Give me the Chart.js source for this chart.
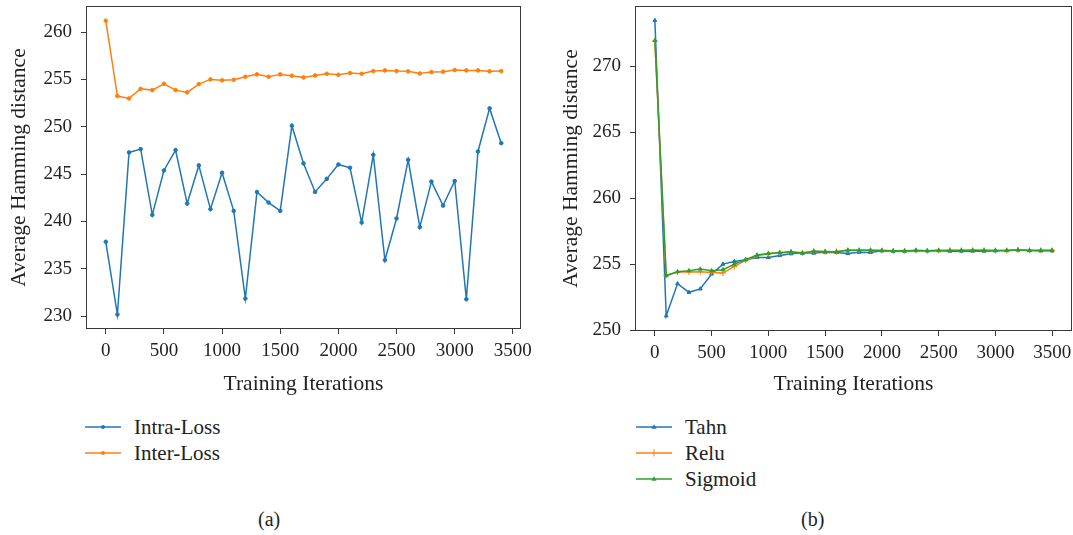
<!DOCTYPE html>
<html><head><meta charset="utf-8">
<script src="https://cdn.jsdelivr.net/npm/chart.js@4.4.1/dist/chart.umd.min.js"></script>
<style>
html,body{margin:0;background:#fff;overflow:hidden}
body{width:1073px;height:535px;position:relative;font-family:"Liberation Serif",serif;color:#222}
canvas{position:absolute;top:0}
#cA{left:0}
#cB{left:540px}
.leg{position:absolute;font-size:21px}
.leg .row{height:26px;display:flex;align-items:center}
.leg svg{margin-right:13px}
.cap{position:absolute;font-size:20px;top:508px}
</style></head><body>
<canvas id="cA" width="540" height="400"></canvas>
<canvas id="cB" width="560" height="400"></canvas>
<div id="legA" class="leg" style="left:85px;top:414px"></div>
<div id="legB" class="leg" style="left:636px;top:414px"></div>
<div class="cap" style="left:258px">(a)</div>
<div class="cap" style="left:801px">(b)</div>
<script>
// ---------- data: panel (a) ----------
const itersA = [0,100,200,300,400,500,600,700,800,900,1000,1100,1200,1300,1400,1500,1600,1700,1800,1900,2000,2100,2200,2300,2400,2500,2600,2700,2800,2900,3000,3100,3200,3300,3400];
const intraLoss = [237.86,230.18,247.29,247.64,240.7,245.39,247.54,241.89,245.92,241.3,245.14,241.12,231.86,243.12,242.0,241.12,250.11,246.13,243.12,244.5,246.02,245.67,239.89,247.04,235.93,240.32,246.51,239.4,244.21,241.68,244.27,231.79,247.39,251.94,248.27];
const interLoss = [261.2,253.24,252.99,254.01,253.87,254.54,253.87,253.63,254.5,255.0,254.9,254.96,255.28,255.53,255.28,255.53,255.39,255.21,255.42,255.6,255.49,255.67,255.6,255.88,255.95,255.88,255.85,255.63,255.77,255.81,255.99,255.95,255.95,255.85,255.88];
const seriesNamesA = ['Intra-Loss','Inter-Loss'];
const xTicksA = [0,500,1000,1500,2000,2500,3000,3500];
const yTicksA = [230,235,240,245,250,255,260];

// ---------- data: panel (b) ----------
const itersB = [0,100,200,300,400,500,600,700,800,900,1000,1100,1200,1300,1400,1500,1600,1700,1800,1900,2000,2100,2200,2300,2400,2500,2600,2700,2800,2900,3000,3100,3200,3300,3400,3500];
const tahn = [273.46,251.08,253.52,252.86,253.12,254.25,255.0,255.2,255.33,255.5,255.5,255.65,255.78,255.83,255.83,255.9,255.88,255.8,255.9,255.88,256.0,255.98,255.98,256.02,256.0,256.02,255.98,255.98,255.98,255.98,256.0,256.02,256.07,256.02,256.0,256.0];
const relu = [271.9,254.15,254.4,254.4,254.42,254.37,254.32,254.82,255.28,255.63,255.78,255.83,255.9,255.85,255.98,255.93,255.95,256.05,256.05,256.05,256.03,256.0,256.0,256.03,256.0,256.03,256.05,256.05,256.05,256.05,256.03,256.03,256.07,256.05,256.05,256.05];
const sigmoid = [271.95,254.12,254.42,254.5,254.62,254.5,254.57,255.0,255.33,255.68,255.8,255.88,255.93,255.83,255.98,255.95,255.93,256.05,256.05,256.05,256.03,256.0,256.0,256.03,256.0,256.03,256.03,256.03,256.05,256.03,256.03,256.03,256.07,256.03,256.03,256.03];
const seriesNamesB = ['Tahn','Relu','Sigmoid'];
const xTicksB = [0,500,1000,1500,2000,2500,3000,3500];
const yTicksB = [250,255,260,265,270];

const axisTitleX = 'Training Iterations';
const axisTitleY = 'Average Hamming distance';

// ---------- styling ----------
const C = {blue:'#1f77b4', orange:'#ff7f0e', green:'#2ca02c'};
const FONT = "'Liberation Serif', serif";
const TXT = '#222';
const AX = '#3a3a3a';

const framePlugin = {
  id:'frame',
  afterDraw(chart){
    const {ctx, chartArea:a} = chart;
    ctx.save();
    ctx.strokeStyle = AX; ctx.lineWidth = 1;
    ctx.strokeRect(Math.round(a.left)+0.5, Math.round(a.top)+0.5,
                   Math.round(a.right-a.left)-1, Math.round(a.bottom-a.top)-1);
    ctx.restore();
  }
};

function pts(xs, ys){ return xs.map((x,i)=>({x:x, y:ys[i]})); }

function makeScales(o){
  const tickFont = {family:FONT, size:19};
  const titleFont = {family:FONT, size:21.5};
  return {
    x:{type:'linear', min:o.xMin, max:o.xMax,
      afterBuildTicks:s=>{ s.ticks = o.xTicks.map(v=>({value:v})); },
      afterFit:s=>{ s.height = o.xH; s.paddingLeft = 0; s.paddingRight = 0; },
      grid:{drawOnChartArea:false, drawTicks:true, tickLength:5, color:AX},
      border:{display:false},
      ticks:{font:tickFont, color:TXT, padding:6, maxRotation:0, autoSkip:false, callback:v=>String(v)},
      title:{display:true, text:axisTitleX, font:titleFont, color:TXT, padding:{top:0,bottom:3}}
    },
    y:{type:'linear', min:o.yMin, max:o.yMax,
      afterBuildTicks:s=>{ s.ticks = o.yTicks.map(v=>({value:v})); },
      afterFit:s=>{ s.width = o.yW; s.paddingTop = 0; s.paddingBottom = 0; },
      grid:{drawOnChartArea:false, drawTicks:true, tickLength:5, color:AX},
      border:{display:false},
      ticks:{font:tickFont, color:TXT, padding:9, autoSkip:false, callback:v=>String(v)},
      title:{display:true, text:axisTitleY, font:titleFont, color:TXT, padding:{top:o.yTitlePad,bottom:0}}
    }
  };
}

function ds(label, xs, ys, color, style, radius, order){
  return {label:label, data:pts(xs,ys), borderColor:color, backgroundColor:color,
    borderWidth:1.5, pointStyle:style, pointRadius:radius, pointBorderWidth:1,
    pointBackgroundColor:color, pointBorderColor:color, order:order, tension:0};
}

const common = {
  responsive:false, animation:false, devicePixelRatio:1,
  plugins:{legend:{display:false}, tooltip:{enabled:false}},
};

new Chart(document.getElementById('cA'), {
  type:'line',
  data:{datasets:[
    ds(seriesNamesA[0], itersA, intraLoss, C.blue, 'circle', 1.8, 2),
    ds(seriesNamesA[1], itersA, interLoss, C.orange, 'circle', 1.8, 1)
  ]},
  options:Object.assign({}, common, {
    layout:{padding:{left:0, top:6, right:19, bottom:0}},
    scales:makeScales({xMin:-170, xMax:3570, xTicks:xTicksA, yMin:228.65, yMax:262.75, yTicks:yTicksA, xH:71, yW:86, yTitlePad:6})
  }),
  plugins:[framePlugin]
});

new Chart(document.getElementById('cB'), {
  type:'line',
  data:{datasets:[
    ds(seriesNamesB[0], itersB, tahn, C.blue, 'triangle', 2.2, 3),
    ds(seriesNamesB[1], itersB, relu, C.orange, 'cross', 3, 2),
    ds(seriesNamesB[2], itersB, sigmoid, C.green, 'triangle', 2.2, 1)
  ]},
  options:Object.assign({}, common, {
    layout:{padding:{left:0, top:6, right:28, bottom:0}},
    scales:makeScales({xMin:-175, xMax:3675, xTicks:xTicksB, yMin:249.93, yMax:274.55, yTicks:yTicksB, xH:69, yW:95, yTitlePad:18})
  }),
  plugins:[framePlugin]
});

// ---------- legends (HTML, built from the series names) ----------
function marker(style, color, cx){
  if(style==='circle') return `<circle cx="${cx}" cy="6" r="2" fill="${color}"/>`;
  if(style==='cross') return `<line x1="${cx}" y1="2.5" x2="${cx}" y2="9.5" stroke="${color}" stroke-width="1"/>`;
  return `<polygon points="${cx},3.2 ${cx+2.6},7.8 ${cx-2.6},7.8" fill="${color}"/>`;
}
function legend(id, names, colors, styles, width){
  const el = document.getElementById(id);
  names.forEach((n,i)=>{
    const row = document.createElement('div');
    row.className = 'row';
    row.innerHTML = `<svg width="${width}" height="12" viewBox="0 0 ${width} 12"><line x1="0" y1="6" x2="${width}" y2="6" stroke="${colors[i]}" stroke-width="1.5"/>${marker(styles[i], colors[i], width/2)}</svg><span>${n}</span>`;
    el.appendChild(row);
  });
}
legend('legA', seriesNamesA, [C.blue, C.orange], ['circle','circle'], 36);
legend('legB', seriesNamesB, [C.blue, C.orange, C.green], ['triangle','cross','triangle'], 36);
</script>
</body></html>
